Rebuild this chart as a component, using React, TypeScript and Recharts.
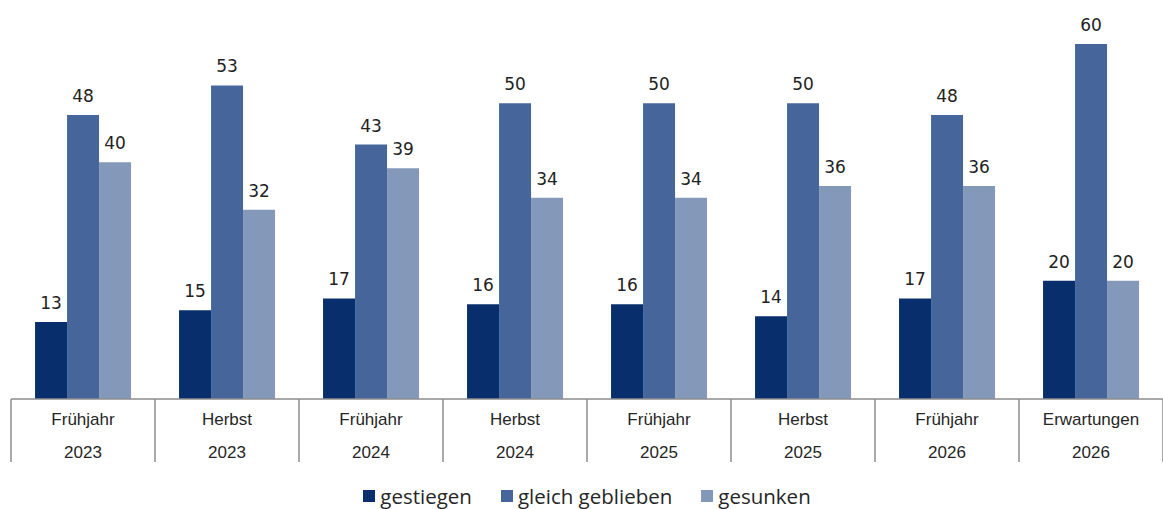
import React from "react";
import { BarChart, Bar, XAxis, YAxis, Legend, LabelList } from "recharts";

const seasons = ["Frühjahr", "Herbst", "Frühjahr", "Herbst", "Frühjahr", "Herbst", "Frühjahr", "Erwartungen"];
const years = ["2023", "2023", "2024", "2024", "2025", "2025", "2026", "2026"];
const gestiegen = [13, 15, 17, 16, 16, 14, 17, 20];
const gleichGeblieben = [48, 53, 43, 50, 50, 50, 48, 60];
const gesunken = [40, 32, 39, 34, 34, 36, 36, 20];

const seriesNames = ["gestiegen", "gleich geblieben", "gesunken"];
const colors = ["#082e6c", "#46659a", "#8499ba"];

const data = seasons.map((s, i) => ({
  key: `${s} ${years[i]}`,
  season: s,
  year: years[i],
  gestiegen: gestiegen[i],
  gleich: gleichGeblieben[i],
  gesunken: gesunken[i],
}));

const W = 1163;
const H = 509;
const M = { top: 44, right: 0, bottom: 0, left: 11 };
const PLOT_W = W - M.left - M.right;
const HALF = PLOT_W / data.length / 2;

const AxisTick = (props: any) => {
  const { x, y, payload } = props;
  const idx = payload.index;
  const d = data[idx];
  const isLast = idx === data.length - 1;
  return (
    <g>
      <line x1={x - HALF} x2={x - HALF} y1={y} y2={y + 63} stroke="#8c8c8c" strokeWidth={1.5} />
      {isLast && <line x1={x + HALF} x2={x + HALF} y1={y} y2={y + 63} stroke="#8c8c8c" strokeWidth={1.5} />}
      <text x={x} y={y + 26} textAnchor="middle" fontSize={17} fill="#262626" fontFamily="Liberation Sans, Arial, sans-serif">
        {d.season}
      </text>
      <text x={x} y={y + 59} textAnchor="middle" fontSize={17} fill="#262626" fontFamily="Liberation Sans, Arial, sans-serif">
        {d.year}
      </text>
    </g>
  );
};

const LegendContent = () => (
  <div style={{ display: "flex", justifyContent: "center", alignItems: "center", height: 30, lineHeight: "22px", paddingTop: 4, boxSizing: "border-box", fontFamily: "Open Sans, sans-serif", fontSize: 20.5, color: "#262626" }}>
    {seriesNames.map((n, i) => (
      <div key={n} style={{ display: "flex", alignItems: "center", marginLeft: i === 0 ? 0 : 29 }}>
        <span style={{ display: "inline-block", width: 12, height: 12, background: colors[i], marginRight: 5 }} />
        <span>{n}</span>
      </div>
    ))}
  </div>
);

const labelStyle = { fontSize: 17, fill: "#222", fontFamily: "DejaVu Sans, sans-serif" };

export default function App() {
  return (
    <div style={{ position: "absolute", left: 0, top: 0, width: W, height: H, background: "#fff" }}>
      <BarChart width={W} height={H} data={data} margin={M} barGap={0} barCategoryGap="16.7%">
        <XAxis
          dataKey="key"
          interval={0}
          height={80}
          tickSize={0}
          tickMargin={0}
          tickLine={false}
          axisLine={{ stroke: "#8c8c8c", strokeWidth: 1.5 }}
          tick={<AxisTick />}
        />
        <YAxis hide domain={[0, 60]} />
        <Legend verticalAlign="bottom" height={30} content={<LegendContent />} />
        <Bar dataKey="gestiegen" name={seriesNames[0]} fill={colors[0]} isAnimationActive={false}>
          <LabelList dataKey="gestiegen" position="top" offset={13} style={labelStyle} />
        </Bar>
        <Bar dataKey="gleich" name={seriesNames[1]} fill={colors[1]} isAnimationActive={false}>
          <LabelList dataKey="gleich" position="top" offset={13} style={labelStyle} />
        </Bar>
        <Bar dataKey="gesunken" name={seriesNames[2]} fill={colors[2]} isAnimationActive={false}>
          <LabelList dataKey="gesunken" position="top" offset={13} style={labelStyle} />
        </Bar>
      </BarChart>
    </div>
  );
}
